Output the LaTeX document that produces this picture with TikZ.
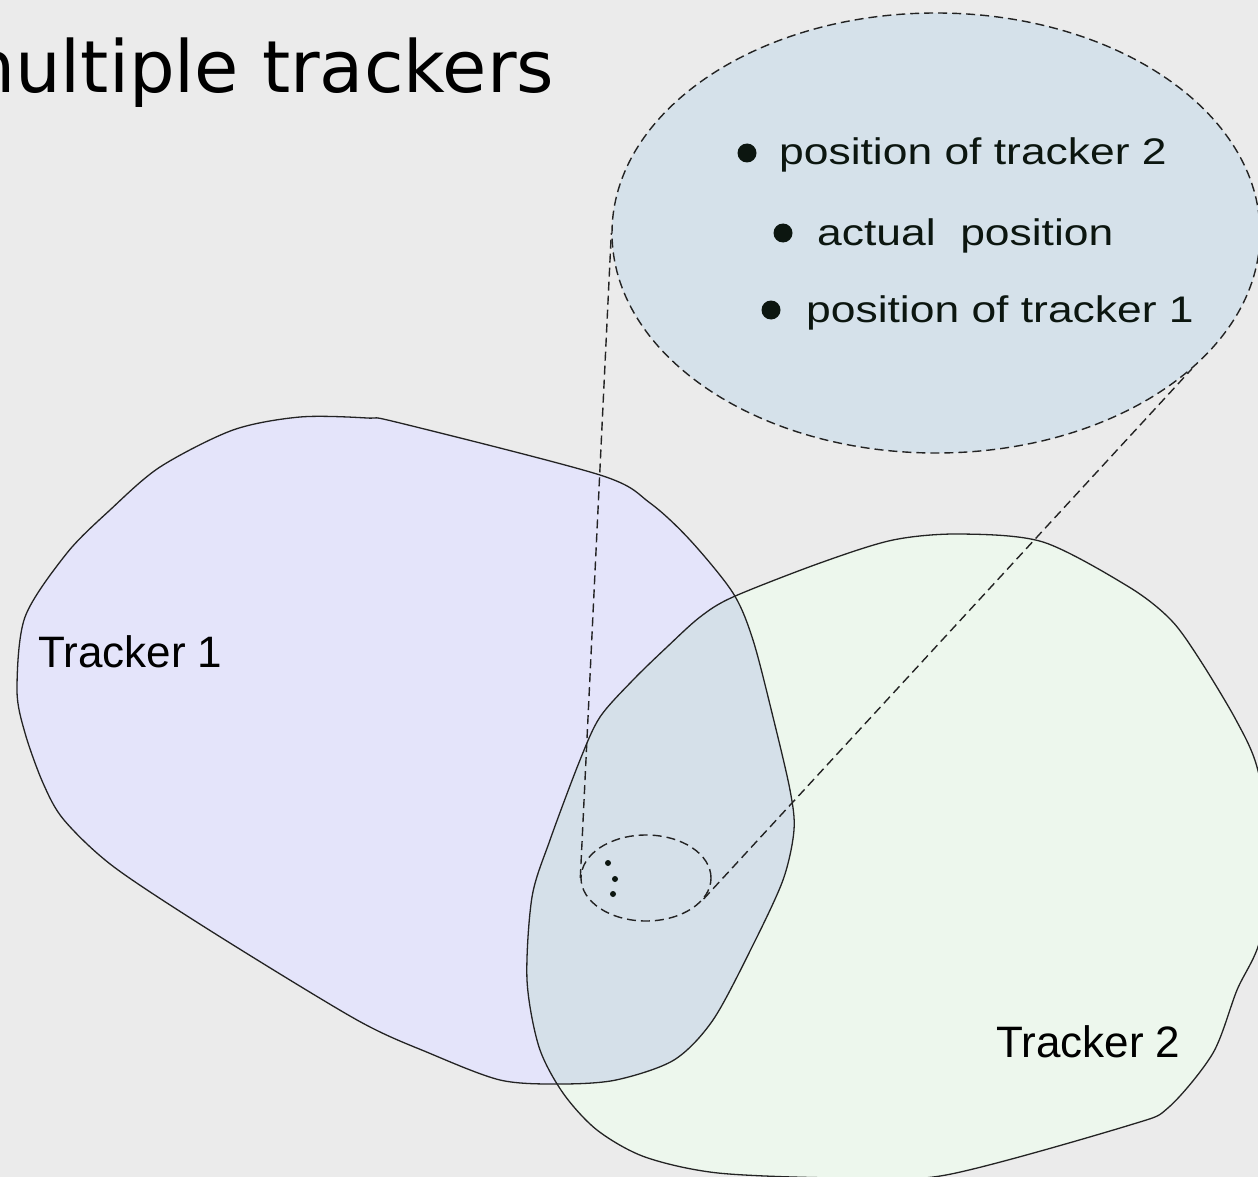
\documentclass[tikz,border=0pt]{standalone}
\usepackage{fontspec}
\setmainfont{Liberation Sans}
\newfontfamily\titlefont{DejaVu Sans}
\newfontfamily\bubblefont[FakeStretch=1.2]{Liberation Sans}
\usetikzlibrary{shapes.geometric}
\definecolor{slide}{RGB}{235,235,235}
\definecolor{onefill}{RGB}{228,228,250}
\definecolor{twofill}{RGB}{237,247,237}
\definecolor{bothfill}{RGB}{213,224,233}
\definecolor{bubblefill}{RGB}{213,225,234}
\definecolor{inkdark}{RGB}{12,22,16}
\definecolor{edge}{RGB}{35,35,35}
\tikzset{
  blobline/.style={draw=edge, line width=1.3pt},
  zoomline/.style={draw=edge, line width=1.4pt, dash pattern=on 9pt off 5pt},
  dot/.style={circle, fill=inkdark, inner sep=0pt, minimum size=19pt},
  rowtext/.style={anchor=base west, inner sep=0pt, text=inkdark, font=\bubblefont\fontsize{37}{37}\selectfont},
  trackerlabel/.style={anchor=base west, inner sep=0pt, font=\fontsize{44}{44}\selectfont}
}
\def\trackerone{plot[smooth cycle, tension=0.5] coordinates {(17,690) (25,617) (67,553) (110,510) (160,467) (233,430) (300,417) (367,418) (400,423) (600,475) (650,503) (690,540) (733,593) (753,640) (773,717) (790,790) (794,830) (783,880) (752,947) (713,1020) (674,1060) (616,1080) (560,1084) (500,1080) (429,1053) (357,1020) (214,933) (114,867) (64,820) (43,783) (25,733)}}
\def\trackertwo{plot[smooth cycle, tension=0.5] coordinates {(733,597) (820,563) (893,540) (960,534) (1043,542) (1129,587) (1171,620) (1200,660) (1236,720) (1257,767) (1272,850) (1260,940) (1237,990) (1213,1053) (1169,1107) (1130,1125) (946,1175) (840,1178) (718,1173) (645,1157) (597,1130) (563,1093) (539,1047) (527,980) (532,897) (550,840) (580,760) (600,717) (633,680) (667,647) (700,617)}}
\begin{document}
\begin{tikzpicture}[x=1pt,y=-1pt]
\useasboundingbox (0,0) rectangle (1258,1177);
\clip (0,0) rectangle (1258,1177);
\fill[slide] (0,0) rectangle (1258,1177);
\node[anchor=base west, inner sep=0pt, font=\titlefont\fontsize{72}{72}\selectfont] (title) at (-55,93) {multiple trackers};
\fill[onefill] \trackerone;
\fill[twofill] \trackertwo;
\begin{scope}
\clip \trackertwo;
\fill[bothfill] \trackerone;
\end{scope}
\draw[blobline] \trackerone;
\draw[blobline] \trackertwo;
\node[trackerlabel] (one) at (38,667) {Tracker 1};
\node[trackerlabel] (two) at (996,1057) {Tracker 2};
\node[ellipse, zoomline, minimum width=130pt, minimum height=86pt, inner sep=0pt] (spot) at (646,878) {};
\foreach \n/\px/\py in {1/608/863, 2/615/879, 3/613/894}
  \node[circle, fill=inkdark, inner sep=0pt, minimum size=6pt] (p\n) at (\px,\py) {};
\node[ellipse, zoomline, fill=bubblefill, minimum width=648pt, minimum height=440pt, inner sep=0pt] (zoom) at (936,233) {};
\draw[zoomline] (spot.west) -- (zoom.west);
\draw[zoomline] (spot.-20) -- (zoom.-28);
\foreach \n/\dx/\dy/\tx/\ty/\txt in {1/747/153/779/165/position of tracker 2, 2/783/233/817/245/actual\ \ position, 3/771/310/806/322/position of tracker 1}
{
\node[dot] (dot\n) at (\dx,\dy) {};
\node[rowtext] (row\n) at (\tx,\ty) {\txt};
}
\end{tikzpicture}
\end{document}
